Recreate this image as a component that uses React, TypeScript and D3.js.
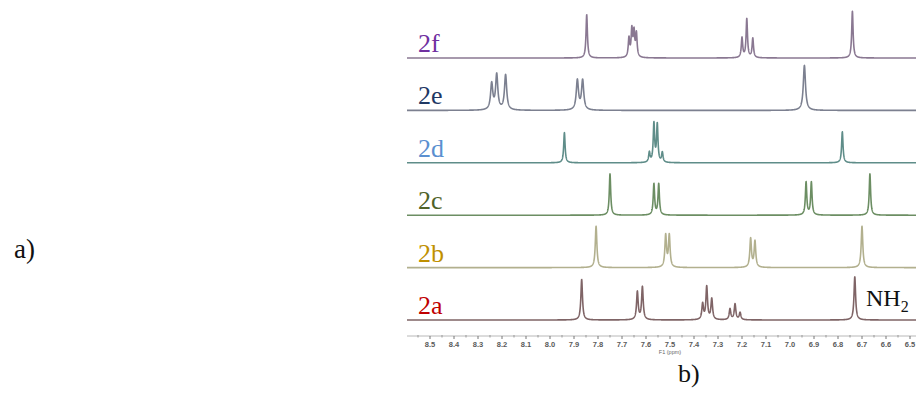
import React from "react";
import * as d3 from "d3";

// ---------- data ----------
const spectra = ["2f", "2e", "2d", "2c", "2b", "2a"];

// peak lists: [chemical shift (ppm), intensity (a.u.)]
const peaks2f: [number, number][] = [
  [7.847, 96], [7.671, 42], [7.659, 60], [7.650, 54], [7.640, 52],
  [7.200, 44], [7.180, 86], [7.155, 43], [6.740, 104],
];
const peaks2e: [number, number][] = [
  [8.243, 58], [8.222, 78], [8.185, 78], [7.886, 66], [7.864, 66], [6.940, 100],
];
const peaks2d: [number, number][] = [
  [7.940, 67], [7.586, 22], [7.567, 86], [7.553, 84], [7.532, 22], [6.782, 69],
];
const peaks2c: [number, number][] = [
  [7.750, 92], [7.567, 69], [7.547, 69], [6.933, 73], [6.911, 73], [6.667, 92],
];
const peaks2b: [number, number][] = [
  [7.808, 92], [7.518, 71], [7.503, 71], [7.164, 64], [7.146, 58], [6.700, 92],
];
const peaks2a: [number, number][] = [
  [7.868, 90], [7.636, 62], [7.615, 73], [7.364, 35], [7.347, 73], [7.326, 46],
  [7.250, 24], [7.229, 35], [7.208, 16], [6.730, 96],
];
const peakLists = [peaks2f, peaks2e, peaks2d, peaks2c, peaks2b, peaks2a];
// half width at half maximum (ppm) per spectrum
const halfWidths = [0.0035, 0.0055, 0.0035, 0.0035, 0.004, 0.004];

const tickLabels = [8.5, 8.4, 8.3, 8.2, 8.1, 8.0, 7.9, 7.8, 7.7, 7.6, 7.5, 7.4, 7.3, 7.2, 7.1, 7.0, 6.9, 6.8, 6.7, 6.6, 6.5];
const minorTicks = [8.55, 8.45, 8.35, 8.25, 8.15, 8.05, 7.95, 7.85, 7.75, 7.65, 7.55, 7.45, 7.35, 7.25, 7.15, 7.05, 6.95, 6.85, 6.75, 6.65, 6.55];

// ---------- styles ----------
const labelColors = ["#7030a0", "#1f3864", "#5b8fd0", "#4f6228", "#bf9000", "#c00000"];
const lineColors = ["#8a7892", "#7c8090", "#5f8d89", "#6c8e63", "#b2b08e", "#7f6466"];

export default function App() {
  const W = 916;
  const H = 405;
  const x = d3.scaleLinear().domain([8.5, 6.5]).range([430, 910]);
  const base = d3.scalePoint<string>().domain(spectra).range([58, 320]);
  const yInt = d3.scaleLinear().domain([0, 100]).range([0, -45]);

  const grid = d3.range(x.invert(407), x.invert(917), -0.0005);

  const paths = spectra.map((name, i) => {
    const pk = peakLists[i];
    const w = halfWidths[i];
    const pts: [number, number][] = grid.map((p) => {
      let v = 0;
      for (const [c, h] of pk) {
        const d = (p - c) / w;
        v += h / (1 + d * d);
      }
      return [p, v];
    });
    const line = d3
      .line<[number, number]>()
      .x((d) => x(d[0]))
      .y((d) => (base(name) as number) + yInt(d[1]));
    return line(pts) || "";
  });

  const axisY = 336;

  return (
    <svg
      width={W}
      height={H}
      style={{ position: "absolute", left: 0, top: 0, background: "#fff" }}
      fontFamily="'Liberation Serif', 'Times New Roman', serif"
    >
      <rect width={W} height={H} fill="#fff" />
      {spectra.map((name, i) => (
        <g key={name}>
          <path d={paths[i]} fill="none" stroke={lineColors[i]} strokeWidth={1.6} strokeLinejoin="round" />
          <text x={418} y={(base(name) as number) - 6} fontSize={26} fill={labelColors[i]}>
            {name}
          </text>
        </g>
      ))}
      {/* NH2 label */}
      <text x={866} y={306} fontSize={24} fill="#111">
        NH<tspan fontSize={16} dy={6}>2</tspan>
      </text>

      {/* axis */}
      <line x1={407} x2={916} y1={axisY} y2={axisY} stroke="#b8b8b8" strokeWidth={1} />
      {tickLabels.map((t) => (
        <g key={"M" + t}>
          <line x1={x(t)} x2={x(t)} y1={axisY} y2={axisY + 3} stroke="#777" strokeWidth={1} />
          <text
            x={x(t)}
            y={axisY + 11}
            fontSize={7.5}
            fontWeight="bold"
            fill="#5a5a5a"
            textAnchor="middle"
            fontFamily="'Liberation Sans', Arial, sans-serif"
          >
            {d3.format(".1f")(t)}
          </text>
        </g>
      ))}
      {minorTicks.map((t) => (
        <line key={"m" + t} x1={x(t)} x2={x(t)} y1={axisY - 1} y2={axisY + 1.5} stroke="#999" strokeWidth={1} />
      ))}
      <text
        x={x(7.5)}
        y={axisY + 17.5}
        fontSize={5.5}
        fill="#666"
        textAnchor="middle"
        fontFamily="'Liberation Sans', Arial, sans-serif"
      >
        F1 (ppm)
      </text>

      {/* panel labels */}
      <text x={14} y={258} fontSize={27} fill="#111">a)</text>
      <text x={678} y={382} fontSize={26} fill="#111">b)</text>
    </svg>
  );
}
